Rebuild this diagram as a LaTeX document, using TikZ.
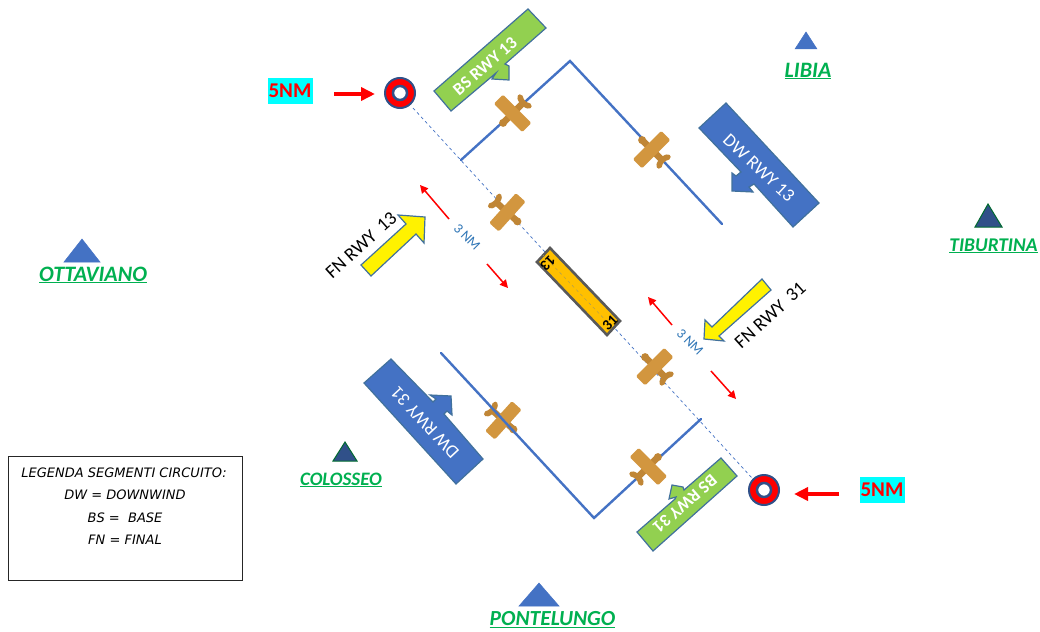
\documentclass[tikz,border=0pt]{standalone}
\usepackage{fontspec}
\setmainfont{Carlito}
\newfontfamily\legendfont{DejaVu Sans}
\usetikzlibrary{arrows.meta}
\definecolor{cblue}{HTML}{4472C4}
\definecolor{cedge}{HTML}{41719C}
\definecolor{cgreen}{HTML}{00B050}
\definecolor{lgreen}{HTML}{92D050}
\definecolor{rwy}{HTML}{FFC000}
\definecolor{wood}{HTML}{D2963F}
\definecolor{woodd}{HTML}{C08636}
\definecolor{aqua}{HTML}{00FFFF}
\definecolor{nmblue}{HTML}{2E75B6}
\newcommand{\ulbox}[1]{\vtop{\hbox{#1}\kern0.5pt\hrule height 1.6pt}}
\tikzset{
  x=1pt,y=-1pt,
  circuit/.style={draw=cblue,line width=2.4pt,line cap=round,line join=miter},
  axis/.style={draw=cblue,line width=0.7pt,dash pattern=on 3pt off 3pt},
  callout/.style={draw=cedge,line width=1.2pt,line join=miter},
  bluecall/.style={callout,fill=cblue},
  greencall/.style={callout,fill=lgreen},
  yellowarrow/.style={callout,fill=yellow},
  calltext/.style={text=white,inner sep=0pt,font=\fontsize{18.5}{24}\selectfont},
  bscalltext/.style={text=white,inner sep=0pt,font=\fontsize{17.5}{24}\selectfont\bfseries},
  fntext/.style={text=black,inner sep=0pt,font=\fontsize{19}{24}\selectfont},
  nmtext/.style={text=nmblue,inner sep=0pt,font=\fontsize{14}{16}\selectfont},
  tag/.style={fill=aqua,text=red,inner sep=0pt,minimum width=45pt,minimum height=26pt,font=\fontsize{21}{24}\selectfont\bfseries},
  bigred/.style={draw=red,line width=3.6pt,-{Triangle[length=14pt,width=13pt]}},
  smallred/.style={draw=red,line width=1.5pt,-{Triangle[length=8pt,width=8pt]}},
  place/.style={text=cgreen,inner sep=0pt},
  placetri/.style={fill=cblue,draw=cblue,line width=0.5pt},
  placetrid/.style={fill=cblue!70!black,draw=cgreen!60!black,line width=1pt},
  ringout/.style={circle,draw=cblue!70!black,line width=2pt,fill=red,minimum size=30pt,inner sep=0pt},
  ringin/.style={circle,draw=cblue!70!black,line width=2.5pt,fill=white,minimum size=14pt,inner sep=0pt},
  rwytext/.style={text=black,inner sep=0pt,font=\fontsize{15}{16}\selectfont\bfseries},
  legendline/.style={inner sep=0pt,font=\legendfont\itshape\fontsize{13}{15}\selectfont},
  plane/.pic={
    \fill[woodd] (-14,-3.2) -- (12,-3.2) .. controls (13,-10) and (19,-11) .. (19,-5.5) .. controls (16.5,-1.5) and (16.5,1.5) .. (19,5.5) .. controls (19,11) and (13,10) .. (12,3.2) -- (-14,3.2) -- cycle;
    \fill[woodd] (-14,0) circle (4);
    \fill[wood,rounded corners=1.5pt] (-7,-20) rectangle (6,20);
  }
}
\newcommand{\pf}[1]{\fontsize{#1}{24}\selectfont\bfseries\itshape}
\begin{document}
\begin{tikzpicture}
\useasboundingbox (0,0) rectangle (1040,631);
\fill[white] (0,0) rectangle (1040,631);
% named points
\coordinate (ax1) at (413,108);
\coordinate (ax2) at (752,478);
\coordinate (c1a) at (461,160);
\coordinate (c1b) at (570,61);
\coordinate (c1c) at (722,224);
\coordinate (c2a) at (441,353);
\coordinate (c2b) at (594,518);
\coordinate (c2c) at (701,419);
% axis and circuit
\draw[axis] (ax1) -- (ax2);
\draw[circuit] (c1a) -- (c1b) -- (c1c);
% planes
\pic at (513,113) [rotate=45] {plane};
\pic at (652,150) [rotate=-45] {plane};
\pic at (507,212) [rotate=138] {plane};
\pic at (655,367) [rotate=-45] {plane};
\pic at (503,420) [rotate=138] {plane};
\draw[circuit] (c2a) -- (c2b) -- (c2c);
\pic at (648,467) [rotate=-135] {plane};
% runway
\filldraw[fill=rwy,draw=black!65,line width=2.6pt,line join=miter] (550,248) -- (620,321) -- (607,335) -- (537,262) -- cycle;
\draw[axis,line width=0.4pt,draw=cblue!50!rwy] (543,255) -- (613,328);
\node[rwytext,rotate=-135] (r13) at (548,263) {13};
\node[rwytext,rotate=45] (r31) at (610,323) {31};
% rings
\node[ringout] (ringA) at (400,93) {};
\node[ringin] (ringAi) at (400,93) {};
\node[ringout] (ringB) at (764,490) {};
\node[ringin] (ringBi) at (764,490) {};
% 5NM
\node[tag] (tagA) at (290,91) {5NM};
\node[tag] (tagB) at (882,490) {5NM};
\coordinate (arA1) at (334,94); \coordinate (arA2) at (375,94);
\coordinate (arB1) at (839,494); \coordinate (arB2) at (794,494);
\draw[bigred] (arA1) -- (arA2);
\draw[bigred] (arB1) -- (arB2);
% callouts
\filldraw[greencall] (528,9) -- (546,28) -- (505,64) -- (509,66) -- (509,80) -- (492,79) -- (496,73) -- (451,111) -- (434,91) -- cycle;
\node[bscalltext,rotate=41] (bs13) at (485,66) {BS RWY 13};
\filldraw[bluecall] (726,103) -- (819,203) -- (793,227) -- (754,184) -- (749,187) -- (753,192) -- (732,191) -- (732,173) -- (736,176) -- (741,172) -- (699,128) -- cycle;
\node[calltext,rotate=-43] (dw13) at (759,168) {DW RWY 13};
\filldraw[bluecall] (391,359) -- (433,402) -- (436,399) -- (430,395) -- (451,396) -- (452,415) -- (447,411) -- (444,414) -- (483,459) -- (456,484) -- (364,383) -- cycle;
\node[calltext,rotate=133] (dw31) at (425,423) {DW RWY 31};
\filldraw[greencall] (721,458) -- (737,476) -- (653,551) -- (637,532) -- (675,499) -- (676,497) -- (669,499) -- (672,485) -- (683,487) -- (684,490) -- cycle;
\node[bscalltext,rotate=221] (bs31) at (685,504) {BS RWY 31};
% yellow arrows
\filldraw[yellowarrow] (361,265) -- (406,224) -- (398,215) -- (425,217) -- (424,243) -- (416,234) -- (371,276) -- cycle;
\filldraw[yellowarrow] (762,279) -- (771,290) -- (719,336) -- (724,341) -- (704,339) -- (705,320) -- (712,327) -- cycle;
\node[fntext,rotate=42] (fn13) at (361,245) {FN RWY\, 13};
\node[fntext,rotate=42] (fn31) at (770,315) {FN RWY\, 31};
% 3 NM
\node[nmtext,rotate=-45] (nm1) at (467,237) {3 NM};
\node[nmtext,rotate=-45] (nm2) at (690,342) {3 NM};
\coordinate (s1a) at (449,219); \coordinate (s1b) at (420,185);
\coordinate (s2a) at (487,264); \coordinate (s2b) at (508,288);
\coordinate (s3a) at (672,325); \coordinate (s3b) at (648,297);
\coordinate (s4a) at (711,371); \coordinate (s4b) at (736,399);
\draw[smallred] (s1a) -- (s1b);
\draw[smallred] (s2a) -- (s2b);
\draw[smallred] (s3a) -- (s3b);
\draw[smallred] (s4a) -- (s4b);
% places
\filldraw[placetri] (795,49) -- (817,49) -- (806,32) -- cycle;
\filldraw[placetrid] (975,227) -- (1002,227) -- (988,204) -- cycle;
\filldraw[placetri] (64,262) -- (100,262) -- (82,239) -- cycle;
\filldraw[placetrid] (333,461) -- (357,461) -- (345,442) -- cycle;
\filldraw[placetri] (519,606) -- (559,606) -- (539,583) -- cycle;
\node[place,font=\pf{22}] (libia) at (808,71) {\ulbox{LIBIA}};
\node[place,font=\pf{19.4}] (tib) at (993.5,246) {\ulbox{TIBURTINA}};
\node[place,font=\pf{22}] (ott) at (93,275) {\ulbox{OTTAVIANO}};
\node[place,font=\pf{19}] (col) at (341,480) {\ulbox{COLOSSEO}};
\node[place,font=\pf{21.5}] (pont) at (552.5,620) {\ulbox{PONTELUNGO}};
% legend
\draw[draw=black!85,line width=0.9pt,fill=white] (8.5,456.5) rectangle (242.5,580.5);
\node[legendline] (lg1) at (124,473) {LEGENDA SEGMENTI CIRCUITO:};
\node[legendline] (lg2) at (125,495) {DW = DOWNWIND};
\node[legendline] (lg3) at (125,518) {BS =\ \ BASE};
\node[legendline] (lg4) at (125,540) {FN = FINAL};
\end{tikzpicture}
\end{document}
